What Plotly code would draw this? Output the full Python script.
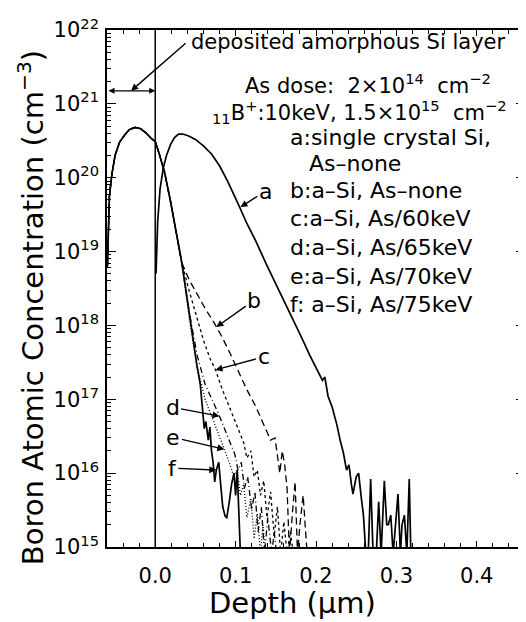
import math
import plotly.graph_objects as go

# ---------------- data (depth in um, boron concentration in cm^-3) ----------------
# a: single crystal Si, As-none
depth_a = [0.001, 0.003, 0.006, 0.010, 0.014, 0.019, 0.024, 0.029, 0.034, 0.041,
           0.050, 0.060, 0.070, 0.080, 0.090, 0.098, 0.105, 0.114, 0.125, 0.138,
           0.156, 0.172, 0.182, 0.192, 0.203, 0.208, 0.211, 0.215, 0.220, 0.226,
           0.230, 0.234, 0.238, 0.241, 0.244, 0.246, 0.250, 0.253, 0.256, 0.259,
           0.262, 0.265, 0.268, 0.271, 0.275, 0.278, 0.281, 0.285, 0.288, 0.290,
           0.293, 0.296, 0.302, 0.305, 0.307, 0.310, 0.313, 0.316, 0.318]
conc_a = [5.0e18, 2.5e19, 7.0e19, 1.35e20, 2.0e20, 2.8e20, 3.5e20, 3.9e20, 3.9e20, 3.7e20,
          3.3e20, 2.7e20, 2.1e20, 1.45e20, 9.0e19, 6.0e19, 4.0e19, 2.4e19, 1.4e19, 6.8e18,
          2.7e18, 1.2e18, 6.9e17, 4.0e17, 2.3e17, 1.8e17, 2.0e17, 1.1e17, 7.9e16, 4.5e16,
          2.8e16, 1.9e16, 1.1e16, 1.3e16, 7.1e15, 5.2e15, 8.9e15, 1.0e16, 5.0e15, 2.7e15,
          8.0e14, 8.0e14, 8.3e15, 8.0e14, 8.0e14, 4.1e15, 8.0e14, 7.9e15, 2.0e15, 2.0e15,
          2.7e15, 8.0e14, 5.2e15, 8.0e14, 2.0e15, 2.7e15, 8.0e14, 8.3e15, 8.0e14]

# common profile of the a-Si samples (b-f) through the deposited layer
depth_layer = [-0.0595, -0.0585, -0.057, -0.054, -0.050, -0.0445, -0.038, -0.032, -0.025,
               -0.018, -0.011, -0.005, 0.000, 0.005, 0.0115, 0.019, 0.026, 0.033]
conc_layer = [6.3e18, 2.0e19, 5.6e19, 1.1e20, 2.0e20, 3.0e20, 3.8e20, 4.5e20, 4.8e20,
              4.6e20, 4.0e20, 3.4e20, 3.1e20, 2.1e20, 1.2e20, 4.8e19, 1.8e19, 7.1e18]

# b: a-Si, As-none
depth_b = [0.042, 0.052, 0.062, 0.073, 0.083, 0.094, 0.104, 0.114, 0.125, 0.135, 0.1435,
           0.149, 0.152, 0.155, 0.158, 0.161, 0.164, 0.167, 0.171, 0.174, 0.177, 0.180,
           0.184, 0.187, 0.189]
conc_b = [4.2e18, 2.7e18, 1.7e18, 1.1e18, 7.0e17, 4.0e17, 2.3e17, 1.35e17, 8.0e16, 4.5e16,
          2.8e16, 3.0e16, 1.6e16, 1.0e16, 2.0e16, 1.3e16, 6.3e15, 8.0e14, 3.2e15, 7.6e15,
          8.0e14, 2.0e15, 5.0e15, 2.0e15, 8.0e14]

# c: a-Si, As/60keV
depth_c = [0.042, 0.052, 0.060, 0.068, 0.075, 0.083, 0.094, 0.104, 0.110, 0.114, 0.119,
           0.123, 0.127, 0.131, 0.135, 0.139, 0.1435, 0.148, 0.152, 0.156, 0.160, 0.164,
           0.168, 0.172]
conc_c = [3.0e18, 1.2e18, 6.3e17, 3.6e17, 2.5e17, 1.4e17, 7.1e16, 3.8e16, 2.6e16, 1.6e16,
          2.0e16, 8.9e15, 1.1e16, 5.0e15, 7.9e15, 2.5e15, 5.6e15, 1.4e15, 3.5e15, 8.0e14,
          2.2e15, 8.0e14, 1.6e15, 8.0e14]

# d: a-Si, As/65keV
depth_d = [0.042, 0.052, 0.062, 0.073, 0.080, 0.087, 0.094, 0.099, 0.103, 0.107, 0.111,
           0.115, 0.120, 0.124, 0.128, 0.132, 0.136, 0.140, 0.145, 0.148, 0.151]
conc_d = [1.6e18, 4.0e17, 1.6e17, 8.9e16, 5.9e16, 3.8e16, 2.5e16, 1.8e16, 1.1e16, 1.4e16,
          6.3e15, 8.9e15, 3.2e15, 5.6e15, 1.6e15, 3.5e15, 8.0e14, 2.5e15, 8.0e14, 1.6e15,
          8.0e14]

# e: a-Si, As/70keV
depth_e = [0.042, 0.052, 0.062, 0.073, 0.080, 0.086, 0.093, 0.098, 0.102, 0.106, 0.110,
           0.114, 0.119, 0.123, 0.127, 0.131, 0.134, 0.137]
conc_e = [1.3e18, 2.8e17, 1.0e17, 5.0e16, 3.2e16, 2.1e16, 1.3e16, 8.9e15, 1.1e16, 5.0e15,
          7.1e15, 2.5e15, 4.5e15, 1.3e15, 2.8e15, 8.0e14, 2.0e15, 8.0e14]

# f: a-Si, As/75keV
depth_f = [0.040, 0.046, 0.052, 0.056, 0.059, 0.061, 0.063, 0.066, 0.068, 0.070, 0.072,
           0.074, 0.076, 0.079, 0.081, 0.084, 0.087, 0.089, 0.092, 0.095, 0.098, 0.100,
           0.102, 0.104, 0.106]
conc_f = [2.2e18, 7.6e17, 2.8e17, 1.6e17, 7.1e16, 4.0e16, 5.0e16, 2.8e16, 4.2e16, 2.0e16,
          1.4e16, 7.6e15, 1.1e16, 1.4e16, 7.9e15, 3.5e15, 2.6e15, 2.5e15, 4.0e15, 7.1e15,
          1.0e16, 5.0e15, 1.1e16, 3.2e15, 8.0e14]

curve_labels = ["a", "b", "c", "d", "e", "f"]
legend_lines = ["a:single crystal Si,", "As\u2013none", "b:a\u2013Si, As\u2013none",
                "c:a\u2013Si, As/60keV", "d:a\u2013Si, As/65keV", "e:a\u2013Si, As/70keV",
                "f: a\u2013Si, As/75keV"]
x_tick_vals = [0.0, 0.1, 0.2, 0.3, 0.4]
x_tick_text = ["0.0", "0.1", "0.2", "0.3", "0.4"]
y_tick_exps = [15, 16, 17, 18, 19, 20, 21, 22]
layer_edge_conc = 1.5e21
layer_start = -0.06

# ---------------- figure ----------------
FONT = "DejaVu Sans"
W, H = 526, 622
ML, MR, MT, MB = 99, 7, 16, 83
PW, PH = W - ML - MR, H - MT - MB

fig = go.Figure()
fig.add_trace(go.Scatter(x=depth_a, y=conc_a, mode="lines",
                         line=dict(color="black", width=1.7), name="a"))
styles = {"b": "7px,4px", "c": "3px,3px", "d": "6px,3px,1px,3px", "e": "1px,2px", "f": "solid"}
tails = {"b": (depth_b, conc_b), "c": (depth_c, conc_c), "d": (depth_d, conc_d),
         "e": (depth_e, conc_e), "f": (depth_f, conc_f)}
for key in ["b", "c", "d", "e", "f"]:
    dx, cy = tails[key]
    fig.add_trace(go.Scatter(x=depth_layer + dx, y=conc_layer + cy, mode="lines",
                             line=dict(color="black", width=1.7 if key == "f" else 1.3,
                                       dash=styles[key]), name=key))

# interface line at depth 0
fig.add_shape(type="line", x0=0, x1=0, y0=0, y1=1, xref="x", yref="paper",
              line=dict(color="black", width=1.5))


def px_x(px):
    return (px - ML) / float(PW)


def px_y(py):
    return (H - MB - py) / float(PH)


ann = []
ly = math.log10(layer_edge_conc)
# double-headed arrow marking the deposited layer
ann.append(dict(x=0, y=ly, ax=layer_start, ay=ly, axref="x", ayref="y", xref="x", yref="y",
                text="", showarrow=True, arrowside="end+start", arrowhead=2,
                arrowsize=1, arrowwidth=1.2, arrowcolor="black"))
ann.append(dict(x=-0.030, y=ly, ax=56, ay=-49, xref="x", yref="y", text="",
                showarrow=True, arrowhead=2, arrowsize=1, arrowwidth=1.4, arrowcolor="black"))

f21 = dict(family=FONT, size=21, color="black")
f22 = dict(family=FONT, size=22, color="black")
ann.append(dict(x=px_x(181), y=px_y(28), xref="paper", yref="paper", xanchor="left",
                yanchor="middle", showarrow=False, font=f21,
                text="deposited amorphous Si layer"))
ann.append(dict(x=px_x(361), y=px_y(71), xref="paper", yref="paper", xanchor="center",
                yanchor="middle", showarrow=False, font=f21,
                text="As dose:  2\u00d710<sup>14</sup>  cm<sup>\u22122</sup>"))
ann.append(dict(x=px_x(353), y=px_y(99), xref="paper", yref="paper", xanchor="center",
                yanchor="middle", showarrow=False, font=f21,
                text="<sub>11</sub>B<sup>+</sup>:10keV, 1.5\u00d710<sup>15</sup>  cm<sup>\u22122</sup>"))
legend_y = [125, 151, 178, 207, 236, 265, 294]
for i, line in enumerate(legend_lines):
    xleft = 300 if i == 1 else 281
    ann.append(dict(x=px_x(xleft), y=px_y(legend_y[i]), xref="paper", yref="paper",
                    xanchor="left", yanchor="middle", showarrow=False, font=f22,
                    text=line))

# curve labels with arrows: (tip depth, tip conc, dx px, dy px)
label_tips = {"a": (0.106, 4.0e19, 25, -16), "b": (0.076, 9.5e17, 38, -27),
              "c": (0.075, 2.5e17, 48, -13), "d": (0.080, 5.9e16, -47, -9),
              "e": (0.086, 2.1e16, -51, -12), "f": (0.076, 1.1e16, -44, -2)}
for lab in curve_labels:
    tx, ty, dx, dy = label_tips[lab]
    ann.append(dict(x=tx, y=math.log10(ty), xref="x", yref="y", ax=dx, ay=dy,
                    text=lab, showarrow=True, arrowhead=2, arrowsize=1, arrowwidth=1.4,
                    arrowcolor="black", standoff=0, font=f22))

# axis titles
ann.append(dict(x=px_x(285), y=px_y(596), xref="paper", yref="paper", xanchor="center",
                yanchor="middle", showarrow=False, font=dict(family=FONT, size=29, color="black"),
                text="Depth (\u03bcm)"))
ann.append(dict(x=px_x(22), y=px_y(297), xref="paper", yref="paper", xanchor="center",
                yanchor="middle", showarrow=False, textangle=-90,
                font=dict(family=FONT, size=29, color="black"),
                text="Boron Atomic Concentration (cm<sup>\u22123</sup>)"))

fig.update_layout(
    width=W, height=H,
    margin=dict(l=ML, r=MR, t=MT, b=MB),
    paper_bgcolor="white", plot_bgcolor="white",
    showlegend=False,
    annotations=ann,
    font=dict(family=FONT, color="black"),
)

fig.update_xaxes(
    range=[layer_start, 0.46], tickmode="array", tickvals=x_tick_vals, ticktext=x_tick_text,
    ticks="inside", ticklen=6, tickwidth=1.2, tickcolor="black",
    minor=dict(dtick=0.02, tick0=0, ticks="inside", ticklen=4, tickcolor="black", showgrid=False),
    showline=True, linecolor="black", linewidth=1.5, mirror="ticks", showgrid=False,
    zeroline=False, tickfont=dict(family=FONT, size=21), ticklabelstandoff=9,
)

fig.update_yaxes(
    type="log", range=[15, 22], tickmode="array",
    tickvals=[10.0 ** e for e in y_tick_exps],
    ticktext=["10<sup>%d</sup>" % e for e in y_tick_exps],
    ticks="inside", ticklen=9, tickwidth=1.2, tickcolor="black",
    minor=dict(tickvals=[k * 10.0 ** e for e in y_tick_exps[:-1] for k in range(2, 10)],
               ticks="inside", ticklen=4, tickcolor="black", showgrid=False),
    showline=True, linecolor="black", linewidth=1.5, mirror="ticks", showgrid=False,
    zeroline=False, tickfont=dict(family=FONT, size=21), ticklabelstandoff=2,
)

fig.write_html("out.html")
